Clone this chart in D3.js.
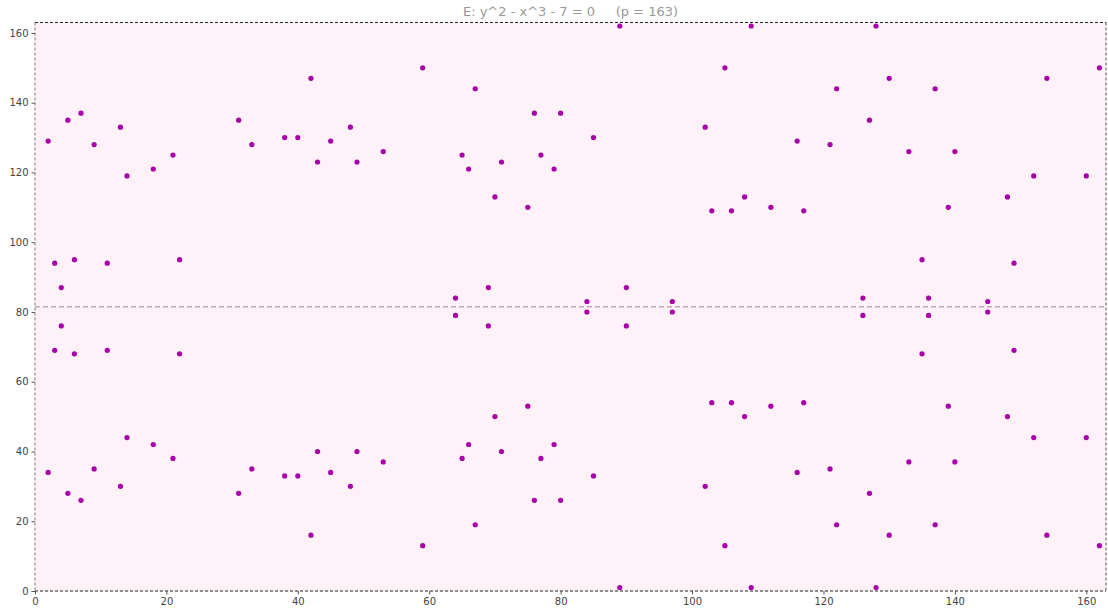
<!DOCTYPE html>
<html>
<head>
<meta charset="utf-8">
<script src="https://cdn.jsdelivr.net/npm/d3@7"></script>
<style>
  body { margin: 0; background: #fff; }
  text { font-family: "DejaVu Sans", sans-serif; }
</style>
</head>
<body>
<div id="chart"></div>
<script>
const P = 163;
// x coordinates and the two matching y values (y, p - y) of each point
const xs = [2, 3, 4, 5, 6, 7, 9, 11, 13, 14, 18, 21, 22, 31, 33, 38, 40, 42, 43, 45, 48, 49, 53, 59,
  64, 65, 66, 67, 69, 70, 71, 75, 76, 77, 79, 80, 84, 85, 89, 90, 97, 102, 103, 105, 106, 108, 109,
  112, 116, 117, 121, 122, 126, 127, 128, 130, 133, 135, 136, 137, 139, 140, 145, 148, 149, 152, 154, 160, 162];
const yUpper = [129, 94, 87, 135, 95, 137, 128, 94, 133, 119, 121, 125, 95, 135, 128, 130, 130, 147, 123, 129, 133, 123, 126, 150,
  84, 125, 121, 144, 87, 113, 123, 110, 137, 125, 121, 137, 83, 130, 162, 87, 83, 133, 109, 150, 109, 113, 162,
  110, 129, 109, 128, 144, 84, 135, 162, 147, 126, 95, 84, 144, 110, 126, 83, 113, 94, 119, 147, 119, 150];
const yLower = [34, 69, 76, 28, 68, 26, 35, 69, 30, 44, 42, 38, 68, 28, 35, 33, 33, 16, 40, 34, 30, 40, 37, 13,
  79, 38, 42, 19, 76, 50, 40, 53, 26, 38, 42, 26, 80, 33, 1, 76, 80, 30, 54, 13, 54, 50, 1,
  53, 34, 54, 35, 19, 79, 28, 1, 16, 37, 68, 79, 19, 53, 37, 80, 50, 69, 44, 16, 44, 13];
const ticks = [0, 20, 40, 60, 80, 100, 120, 140, 160];
const title = "E: y^2 - x^3 - 7 = 0\u00a0\u00a0\u00a0\u00a0\u00a0(p = 163)";

const points = [];
xs.forEach((x, i) => {
  points.push({ x, y: yUpper[i] });
  points.push({ x, y: yLower[i] });
});

const W = 1108, H = 608;
const mLeft = 35, mRight = 1106, mTop = 22.5, mBottom = 591;

const svg = d3.select('#chart').append('svg')
  .attr('width', W)
  .attr('height', H);

const x = d3.scaleLinear().domain([0, P]).range([mLeft, mRight]);
const y = d3.scaleLinear().domain([0, P]).range([mBottom, mTop]);

svg.append('rect')
  .attr('x', mLeft).attr('y', mTop)
  .attr('width', mRight - mLeft).attr('height', mBottom - mTop)
  .attr('fill', '#fff1f8');

// p/2 line
svg.append('line')
  .attr('x1', mLeft).attr('x2', mRight)
  .attr('y1', y(P / 2)).attr('y2', y(P / 2))
  .attr('stroke', '#c4aab8')
  .attr('stroke-width', 1.3)
  .attr('stroke-dasharray', '5,3');

svg.append('g').selectAll('circle')
  .data(points)
  .enter()
  .append('circle')
  .attr('cx', d => x(d.x))
  .attr('cy', d => y(d.y))
  .attr('r', 2.6)
  .attr('fill', '#a800a8');

// frame
const frame = [
  [mLeft, mTop, mRight, mTop, '#222'],
  [mLeft, mBottom, mRight, mBottom, '#222'],
  [mLeft, mTop, mLeft, mBottom, '#777'],
  [mRight, mTop, mRight, mBottom, '#555']
];
svg.append('g').selectAll('line')
  .data(frame)
  .enter()
  .append('line')
  .attr('x1', d => d[0]).attr('y1', d => d[1])
  .attr('x2', d => d[2]).attr('y2', d => d[3])
  .attr('stroke', d => d[4])
  .attr('stroke-width', 1)
  .attr('stroke-dasharray', '3,2');

const xAxis = svg.append('g')
  .attr('transform', `translate(0,${mBottom})`)
  .call(d3.axisBottom(x).tickValues(ticks).tickSize(3.5).tickPadding(3));
const yAxis = svg.append('g')
  .attr('transform', `translate(${mLeft},0)`)
  .call(d3.axisLeft(y).tickValues(ticks).tickSize(3.5).tickPadding(3));

[xAxis, yAxis].forEach(g => {
  g.select('.domain').remove();
  g.selectAll('.tick line').attr('stroke', '#555');
  g.selectAll('.tick text')
    .attr('fill', '#444')
    .style('font-size', '10px')
    .style('font-family', '"DejaVu Sans", sans-serif');
});

svg.append('text')
  .attr('x', (mLeft + mRight) / 2)
  .attr('y', 16)
  .attr('text-anchor', 'middle')
  .attr('fill', '#999')
  .style('font-size', '13px')
  .text(title);
</script>
</body>
</html>
